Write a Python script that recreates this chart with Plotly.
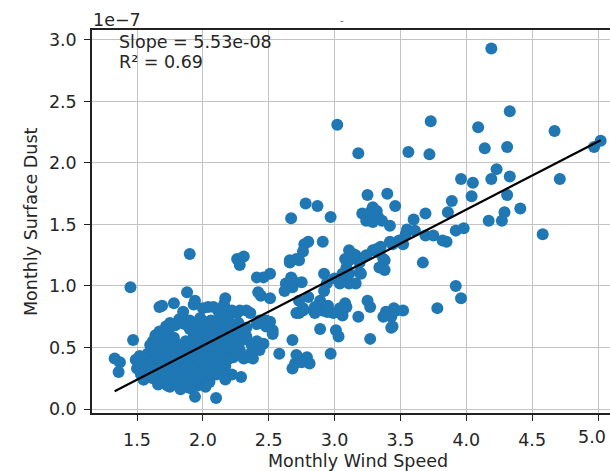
import plotly.graph_objects as go
import numpy as np

# ---------------- data ----------------
Y_SCALE = 1e-7  # axis offset label "1e-7"

wind_speed = [
    # upper / right region
    4.19, 3.02, 3.73, 3.18, 3.56, 3.72, 4.09, 4.33, 4.14, 4.31, 4.67, 5.02, 4.97,
    4.71, 4.23, 4.19, 4.33, 3.96, 4.05, 4.31, 4.04, 4.41, 3.89, 3.86, 4.29, 4.17,
    4.27, 4.58, 3.92, 3.98, 3.69, 3.60, 3.55, 3.25, 3.40, 3.46, 2.78, 2.87, 2.67,
    2.97, 3.21, 3.27, 3.32, 3.24, 3.29, 3.33, 3.29, 3.42, 3.36,
    # along the fit line
    3.44, 3.49, 3.54, 3.61, 3.69, 3.75, 3.82, 3.85, 3.42, 3.52, 3.37, 3.34, 3.38,
    3.67, 3.29, 3.34, 3.38, 3.11, 3.08, 3.16, 3.19, 3.24, 3.14, 3.09, 3.11, 3.32,
    3.35, 2.80, 2.91, 2.77, 2.76, 2.71, 2.66, 2.73, 2.51, 2.46, 2.41, 2.67, 2.63,
    2.68, 2.62, 2.75, 2.68, 2.92, 2.94, 2.92, 3.00, 3.11, 3.19, 3.16, 3.11, 3.06,
    3.09, 3.04, 3.20,
    # middle band
    2.44, 2.51, 2.42, 2.73, 2.89, 2.87, 3.08, 3.25, 3.27, 3.92, 3.96, 3.78, 3.45,
    3.39, 3.37, 3.43, 3.52, 3.47, 3.44, 3.43, 3.27, 2.97, 2.89, 3.01, 3.03, 3.18,
    3.06, 3.09, 3.04, 2.89, 2.91, 2.95, 2.99, 2.95, 2.84, 2.76, 2.79, 2.81, 2.70,
    2.58, 2.68, 2.71, 2.75, 2.68, 2.53, 2.51, 2.48, 2.41, 2.37, 2.28, 2.34, 2.29,
    2.10, 1.94, 2.73, 2.76, 2.94, 3.06, 2.80, 2.66, 2.85, 2.85, 2.71,
    # left side
    1.90, 2.26, 2.31, 2.28, 2.17, 1.88, 1.94, 1.78, 1.69, 1.67, 2.04, 2.12, 2.33,
    2.26, 2.19, 1.45, 1.47, 1.33, 1.37, 1.36, 1.52, 1.55, 1.75,
    2.20, 2.28, 2.36, 2.43, 2.48, 2.53, 2.26, 2.33, 2.41, 2.46, 2.28, 2.36, 2.43,
    2.23, 2.31, 2.38,
    # dense cluster
    1.85, 1.93, 2.00, 2.08, 2.16, 2.22,
    1.75, 1.82, 1.90, 1.98, 2.06, 2.13, 2.20, 2.27,
    1.72, 1.79, 1.86, 1.94, 2.02, 2.09, 2.16, 2.23,
    1.67, 1.74, 1.78, 1.90, 1.97, 2.04, 2.11, 2.18, 2.25, 2.33,
    1.64, 1.71, 1.93, 2.00, 2.07, 2.14, 2.21, 2.29,
    1.62, 1.70, 1.77, 1.87, 1.94, 2.01, 2.08, 2.15, 2.22, 2.30,
    1.60, 1.67, 1.74, 1.82, 1.90, 1.98, 2.05, 2.12, 2.19, 2.26,
    1.52, 1.58, 1.66, 1.73, 1.81, 1.89, 1.96, 2.03, 2.10, 2.17, 2.24,
    1.62, 1.69, 1.77, 1.85, 1.93, 2.00, 2.07, 2.14, 2.21,
    1.49, 1.56, 1.63, 1.70, 1.78, 1.85, 1.92, 1.99, 2.06, 2.13, 2.20,
    1.53, 1.60, 1.67, 1.74, 1.82, 1.89, 1.96, 2.03, 2.10, 2.17,
    1.50, 1.57, 1.64, 1.72, 1.79, 1.86, 1.93, 2.00, 2.07, 2.14,
    1.53, 1.60, 1.67, 1.75, 1.82, 1.89, 1.96, 2.03, 2.10,
    1.55, 1.62, 1.70, 1.78, 1.85, 1.92, 1.99, 2.05,
    1.66, 1.73, 1.81, 1.88, 1.96, 2.02,
    1.83, 1.90, 2.02, 2.17, 2.22,
]

dust_e7 = [
    # upper / right region
    2.93, 2.31, 2.34, 2.08, 2.09, 2.07, 2.29, 2.42, 2.12, 2.13, 2.26, 2.18, 2.13,
    1.87, 1.95, 1.87, 1.89, 1.87, 1.84, 1.74, 1.73, 1.63, 1.69, 1.60, 1.60, 1.53,
    1.53, 1.42, 1.45, 1.47, 1.59, 1.54, 1.46, 1.74, 1.75, 1.65, 1.67, 1.65, 1.55,
    1.56, 1.59, 1.60, 1.61, 1.53, 1.52, 1.56, 1.64, 1.49, 1.53,
    # along the fit line
    1.34, 1.37, 1.42, 1.45, 1.41, 1.41, 1.37, 1.36, 1.36, 1.34, 1.22, 1.15, 1.13,
    1.19, 1.29, 1.27, 1.21, 1.29, 1.22, 1.25, 1.19, 1.25, 1.26, 1.15, 1.21, 1.30,
    1.32, 1.36, 1.36, 1.34, 1.28, 1.22, 1.21, 1.21, 1.10, 1.07, 1.07, 1.07, 1.02,
    0.99, 0.96, 1.03, 1.05, 1.10, 1.02, 0.96, 1.06, 1.10, 1.11, 1.02, 1.02, 1.10,
    1.07, 1.02, 1.10,
    # middle band
    0.92, 0.90, 0.95, 0.88, 0.88, 0.83, 0.86, 0.88, 0.83, 1.00, 0.90, 0.82, 0.82,
    0.79, 0.75, 0.75, 0.80, 0.80, 0.67, 0.66, 0.57, 0.45, 0.65, 0.64, 0.59, 0.75,
    0.76, 0.83, 0.82, 0.84, 0.80, 0.79, 0.78, 0.84, 0.80, 0.80, 0.42, 0.37, 0.37,
    0.45, 0.56, 0.44, 0.38, 0.33, 0.64, 0.71, 0.72, 0.69, 0.52, 0.45, 0.42, 0.26,
    0.09, 0.10, 0.78, 0.82, 0.79, 0.79, 0.91, 1.19, 0.83, 0.78, 0.78,
    # left side
    1.26, 1.22, 1.24, 1.17, 0.90, 0.95, 0.88, 0.86, 0.84, 0.83, 0.83, 0.79, 0.80,
    0.78, 0.75, 0.99, 0.56, 0.41, 0.38, 0.30, 0.34, 0.24, 0.18,
    0.78, 0.80, 0.78, 0.72, 0.67, 0.61, 0.61, 0.59, 0.55, 0.53, 0.48, 0.45, 0.48,
    0.42, 0.41, 0.41,
    # dense cluster
    0.79, 0.85, 0.82, 0.83, 0.85, 0.80,
    0.70, 0.73, 0.72, 0.74, 0.72, 0.73, 0.71, 0.70,
    0.67, 0.68, 0.69, 0.67, 0.68, 0.66, 0.68, 0.67,
    0.63, 0.64, 0.58, 0.65, 0.63, 0.65, 0.64, 0.62, 0.64, 0.66,
    0.60, 0.59, 0.61, 0.60, 0.59, 0.61, 0.60, 0.59,
    0.55, 0.57, 0.56, 0.55, 0.57, 0.56, 0.55, 0.57, 0.55, 0.56,
    0.52, 0.51, 0.53, 0.52, 0.51, 0.53, 0.52, 0.51, 0.52, 0.53,
    0.43, 0.45, 0.48, 0.47, 0.49, 0.48, 0.47, 0.49, 0.47, 0.48, 0.49,
    0.44, 0.45, 0.44, 0.43, 0.45, 0.44, 0.43, 0.45, 0.44,
    0.40, 0.41, 0.40, 0.39, 0.41, 0.40, 0.39, 0.41, 0.40, 0.39, 0.41,
    0.36, 0.37, 0.36, 0.35, 0.37, 0.36, 0.35, 0.37, 0.36, 0.35,
    0.33, 0.31, 0.32, 0.33, 0.31, 0.32, 0.33, 0.31, 0.32, 0.31,
    0.28, 0.27, 0.28, 0.29, 0.27, 0.28, 0.29, 0.27, 0.28,
    0.24, 0.25, 0.23, 0.24, 0.25, 0.23, 0.24, 0.22,
    0.20, 0.19, 0.20, 0.21, 0.19, 0.20,
    0.16, 0.17, 0.18, 0.24, 0.28,
]

SLOPE = 5.53e-08
INTERCEPT = -5.91e-08
R_SQUARED = 0.69

x_tick_vals = [1.5, 2.0, 2.5, 3.0, 3.5, 4.0, 4.5, 5.0]
x_tick_labels = ["1.5", "2.0", "2.5", "3.0", "3.5", "4.0", "4.5", "5.0"]
y_tick_vals_e7 = [0.0, 0.5, 1.0, 1.5, 2.0, 2.5, 3.0]
y_tick_labels = ["0.0", "0.5", "1.0", "1.5", "2.0", "2.5", "3.0"]

# ---------------- figure ----------------
W, H = 610, 471
ML, MR, MT, MB = 92, 0, 30, 58
PW, PH = W - ML - MR, H - MT - MB
X_RANGE = [1.158, 5.091]


def px_x(px):
    return (px - ML) / PW


def px_y(py):
    return (H - MB - py) / PH


x = np.array(wind_speed)
y = np.array(dust_e7) * Y_SCALE

line_x = np.array([x.min(), x.max()])
line_y = SLOPE * line_x + INTERCEPT

FONT = "DejaVu Sans"
TXT = "#262626"
FS = 17.5

fig = go.Figure()
fig.add_trace(go.Scatter(
    x=x, y=y, mode="markers",
    marker=dict(color="#1f77b4", size=12, line=dict(width=0)),
    showlegend=False, hoverinfo="skip",
))
fig.add_trace(go.Scatter(
    x=line_x, y=line_y, mode="lines",
    line=dict(color="black", width=2.2),
    showlegend=False, hoverinfo="skip",
))

axis_common = dict(
    showline=True, linecolor="#222222", linewidth=1.5,
    ticks="outside", ticklen=6, tickwidth=1.4, tickcolor="#222222",
    showgrid=True, gridcolor="#c4c4c4", gridwidth=1.3,
    zeroline=False,
    tickfont=dict(family=FONT, size=FS, color=TXT),
)

# the last x tick label sits on the clipped right edge; plotly would drop it,
# so it is written as an annotation below, nudged to stay inside the page
x_tick_text_axis = x_tick_labels[:-1] + [""]

fig.update_layout(
    width=W, height=H,
    margin=dict(l=ML, r=MR, t=MT, b=MB),
    paper_bgcolor="white", plot_bgcolor="white",
    xaxis=dict(
        range=X_RANGE,
        tickmode="array", tickvals=x_tick_vals, ticktext=x_tick_text_axis,
        mirror=True, ticklabelstandoff=4,
        **axis_common,
    ),
    yaxis=dict(
        range=[-0.0325 * Y_SCALE, 3.081 * Y_SCALE],
        tickmode="array",
        tickvals=[v * Y_SCALE for v in y_tick_vals_e7],
        ticktext=y_tick_labels,
        mirror=False, ticklabelstandoff=4,
        **axis_common,
    ),
    font=dict(family=FONT, size=FS, color=TXT),
)

ann = [
    dict(text="Monthly Wind Speed", x=px_x(358), y=px_y(461),
         xanchor="center", yanchor="middle"),
    dict(text="Monthly Surface Dust", x=px_x(31), y=px_y(222),
         xanchor="center", yanchor="middle", textangle=-90),
    dict(text="1e\u22127", x=px_x(91), y=px_y(20),
         xanchor="left", yanchor="middle"),
    dict(text=f"Slope = {SLOPE:.2e}", x=px_x(117), y=px_y(42),
         xanchor="left", yanchor="middle"),
    dict(text=f"R\u00b2 = {R_SQUARED:.2f}", x=px_x(117), y=px_y(62),
         xanchor="left", yanchor="middle"),
    dict(text=x_tick_labels[-1], x=px_x(608), y=px_y(437),
         xanchor="right", yanchor="middle"),
]
for a in ann:
    fig.add_annotation(xref="paper", yref="paper", showarrow=False,
                       font=dict(family=FONT, size=FS, color=TXT), **a)

# faint remnant of a cropped title above the plot
fig.add_annotation(xref="paper", yref="paper", showarrow=False,
                   text="-", x=px_x(342), y=px_y(20), xanchor="center",
                   yanchor="middle", font=dict(family=FONT, size=10, color="#666666"))

fig.write_html("out.html")
